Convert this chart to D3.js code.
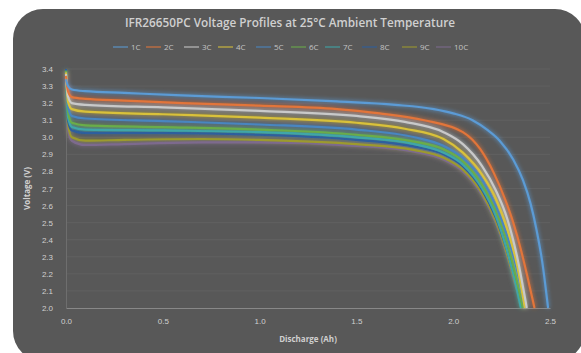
<!DOCTYPE html>
<html>
<head>
<meta charset="utf-8">
<script src="https://cdn.jsdelivr.net/npm/d3@7"></script>
<style>
  body { margin: 0; background: #fff; }
  svg { display: block; font-family: "Open Sans", "Noto Sans", sans-serif; }
</style>
</head>
<body>
<div id="chart"></div>
<script>
// ---- data: [discharge Ah, voltage V] ----
const seriesNames = ['1C', '2C', '3C', '4C', '5C', '6C', '7C', '8C', '9C', '10C'];
const seriesColors = ['#5b9bd5', '#e2753a', '#c9c9c9', '#d9c13a', '#4a86c0', '#6aad4a', '#3fa6a8', '#2e5e9e', '#9c9a2e', '#7d6a8e'];

const c1 = [[0,3.34],[0.01,3.30],[0.03,3.28],[0.1,3.27],[0.3,3.26],[0.6,3.245],[1.0,3.23],[1.4,3.21],[1.7,3.19],[1.9,3.165],[2.0,3.14],[2.1,3.10],[2.18,3.04],[2.24,2.98],[2.31,2.87],[2.36,2.75],[2.40,2.61],[2.43,2.46],[2.46,2.27],[2.49,2.0]];
const c2 = [[0,3.36],[0.01,3.27],[0.03,3.235],[0.1,3.225],[0.3,3.215],[0.6,3.20],[1.0,3.185],[1.4,3.165],[1.62,3.14],[1.85,3.10],[2.05,3.03],[2.14,2.93],[2.21,2.79],[2.27,2.63],[2.31,2.50],[2.35,2.34],[2.38,2.20],[2.42,2.0]];
const c3 = [[0,3.37],[0.01,3.24],[0.03,3.20],[0.1,3.19],[0.5,3.175],[1.0,3.155],[1.5,3.125],[1.75,3.09],[1.95,3.03],[2.05,2.96],[2.15,2.83],[2.22,2.69],[2.28,2.52],[2.33,2.30],[2.38,2.0]];
const c4 = [[0,3.38],[0.01,3.21],[0.03,3.165],[0.1,3.15],[0.5,3.135],[1.0,3.115],[1.5,3.085],[1.75,3.05],[1.95,2.99],[2.05,2.91],[2.15,2.78],[2.22,2.64],[2.28,2.46],[2.33,2.25],[2.37,2.0]];
const c5 = [[0,3.38],[0.01,3.18],[0.03,3.125],[0.1,3.11],[0.5,3.095],[1.0,3.075],[1.5,3.045],[1.8,3.00],[1.95,2.95],[2.05,2.88],[2.15,2.75],[2.22,2.60],[2.28,2.42],[2.33,2.22],[2.37,2.0]];
const c6 = [[0,3.39],[0.01,3.15],[0.03,3.085],[0.1,3.07],[0.5,3.06],[1.0,3.045],[1.5,3.015],[1.8,2.975],[1.95,2.93],[2.05,2.86],[2.15,2.72],[2.22,2.57],[2.28,2.38],[2.32,2.20],[2.36,2.0]];
const c7 = [[0,3.39],[0.01,3.12],[0.03,3.06],[0.1,3.045],[0.5,3.04],[1.0,3.03],[1.5,3.0],[1.8,2.96],[1.95,2.91],[2.05,2.84],[2.15,2.70],[2.22,2.54],[2.27,2.37],[2.31,2.20],[2.35,2.0]];
const c8 = [[0,3.40],[0.01,3.10],[0.03,3.04],[0.1,3.025],[0.5,3.025],[1.0,3.015],[1.5,2.985],[1.8,2.945],[1.95,2.90],[2.05,2.83],[2.15,2.69],[2.22,2.53],[2.28,2.33],[2.32,2.17],[2.36,2.0]];
const c9 = [[0,3.40],[0.01,3.08],[0.03,3.0],[0.1,2.98],[0.3,2.985],[0.7,2.99],[1.0,2.985],[1.5,2.96],[1.8,2.925],[1.95,2.88],[2.05,2.81],[2.15,2.67],[2.22,2.51],[2.28,2.31],[2.32,2.15],[2.36,2.0]];
const c10 = [[0,3.40],[0.01,3.05],[0.03,2.98],[0.1,2.955],[0.3,2.96],[0.7,2.97],[1.0,2.97],[1.5,2.95],[1.8,2.915],[1.95,2.87],[2.05,2.80],[2.15,2.66],[2.22,2.50],[2.28,2.30],[2.32,2.14],[2.36,2.0]];
const seriesValues = [c1, c2, c3, c4, c5, c6, c7, c8, c9, c10];

const xTicks = [0.0, 0.5, 1.0, 1.5, 2.0, 2.5];
const yTicks = [2.0, 2.1, 2.2, 2.3, 2.4, 2.5, 2.6, 2.7, 2.8, 2.9, 3.0, 3.1, 3.2, 3.3, 3.4];

const W = 581, H = 353;
const margin = { top: 69, right: 31, bottom: 45, left: 66 };
const textColor = '#d0d0d0';

const svg = d3.select('#chart').append('svg')
  .attr('width', W)
  .attr('height', H);

// soft glow on the lines
const defs = svg.append('defs');
const glow = defs.append('filter').attr('id', 'glow')
  .attr('x', '-10%').attr('y', '-10%').attr('width', '120%').attr('height', '120%');
glow.append('feGaussianBlur').attr('in', 'SourceGraphic').attr('stdDeviation', 2.2).attr('result', 'blur');
glow.append('feGaussianBlur').attr('in', 'SourceGraphic').attr('stdDeviation', 0.6).attr('result', 'soft');
const merge = glow.append('feMerge');
merge.append('feMergeNode').attr('in', 'blur');
merge.append('feMergeNode').attr('in', 'soft');

// rounded dark panel
svg.append('rect')
  .attr('x', 13).attr('y', 9)
  .attr('width', 572).attr('height', 352)
  .attr('rx', 30)
  .attr('fill', '#585858');

const x = d3.scaleLinear().domain([0, 2.5]).range([margin.left, W - margin.right]);
const y = d3.scaleLinear().domain([2.0, 3.4]).range([H - margin.bottom, margin.top]);

// gridlines
svg.append('g')
  .selectAll('line')
  .data(yTicks.slice(1))
  .join('line')
  .attr('x1', x(0)).attr('x2', x(2.5))
  .attr('y1', d => y(d)).attr('y2', d => y(d))
  .attr('stroke', '#616161')
  .attr('stroke-width', 1);

// axes
const xAxis = svg.append('g')
  .attr('transform', `translate(0,${y(2.0)})`)
  .call(d3.axisBottom(x).tickValues(xTicks).tickFormat(d3.format('.1f')).tickSize(0).tickPadding(10));
xAxis.select('.domain').attr('stroke', '#888');

const yAxis = svg.append('g')
  .attr('transform', `translate(${x(0)},0)`)
  .call(d3.axisLeft(y).tickValues(yTicks).tickFormat(d3.format('.1f')).tickSize(0).tickPadding(13));
yAxis.select('.domain').attr('stroke', '#6e6e6e');

svg.selectAll('.tick text')
  .attr('fill', textColor)
  .style('font-size', '8px');

// lines
const line = d3.line()
  .x(d => x(d[0]))
  .y(d => y(d[1]))
  .curve(d3.curveMonotoneX);

const plot = svg.append('g').attr('filter', 'url(#glow)');
plot.selectAll('path')
  .data(seriesValues.map((v, i) => ({ name: seriesNames[i], values: v, color: seriesColors[i] })).reverse())
  .join('path')
  .attr('d', d => line(d.values))
  .attr('fill', 'none')
  .attr('stroke', d => d.color)
  .attr('stroke-width', 2.2);

// title
svg.append('text')
  .attr('x', 290).attr('y', 27)
  .attr('text-anchor', 'middle')
  .attr('fill', textColor)
  .style('font-size', '12px')
  .style('font-weight', 600)
  .attr('textLength', 330)
  .attr('lengthAdjust', 'spacingAndGlyphs')
  .text('IFR26650PC Voltage Profiles at 25°C Ambient Temperature');

// legend
const legendX = [113, 146, 184, 218, 256, 291, 325, 362, 402, 436];
const legend = svg.append('g').attr('transform', 'translate(0,47)');
const items = legend.selectAll('g')
  .data(seriesNames)
  .join('g')
  .attr('transform', (d, i) => `translate(${legendX[i]},0)`);
items.append('line')
  .attr('x1', 0).attr('x2', 15)
  .attr('stroke', (d, i) => seriesColors[i])
  .attr('stroke-width', 1.5)
  .attr('opacity', 0.7);
items.append('text')
  .attr('x', 18).attr('y', 3)
  .attr('fill', '#c4c4c4')
  .style('font-size', '8px')
  .text(d => d);

// axis titles
svg.append('text')
  .attr('x', x(1.25)).attr('y', 342)
  .attr('text-anchor', 'middle')
  .attr('fill', textColor)
  .style('font-size', '8px')
  .style('font-weight', 700)
  .text('Discharge (Ah)');

svg.append('text')
  .attr('transform', `translate(30,${y(2.7)}) rotate(-90)`)
  .attr('text-anchor', 'middle')
  .attr('fill', textColor)
  .style('font-size', '8px')
  .style('font-weight', 700)
  .text('Voltage (V)');
</script>
</body>
</html>
